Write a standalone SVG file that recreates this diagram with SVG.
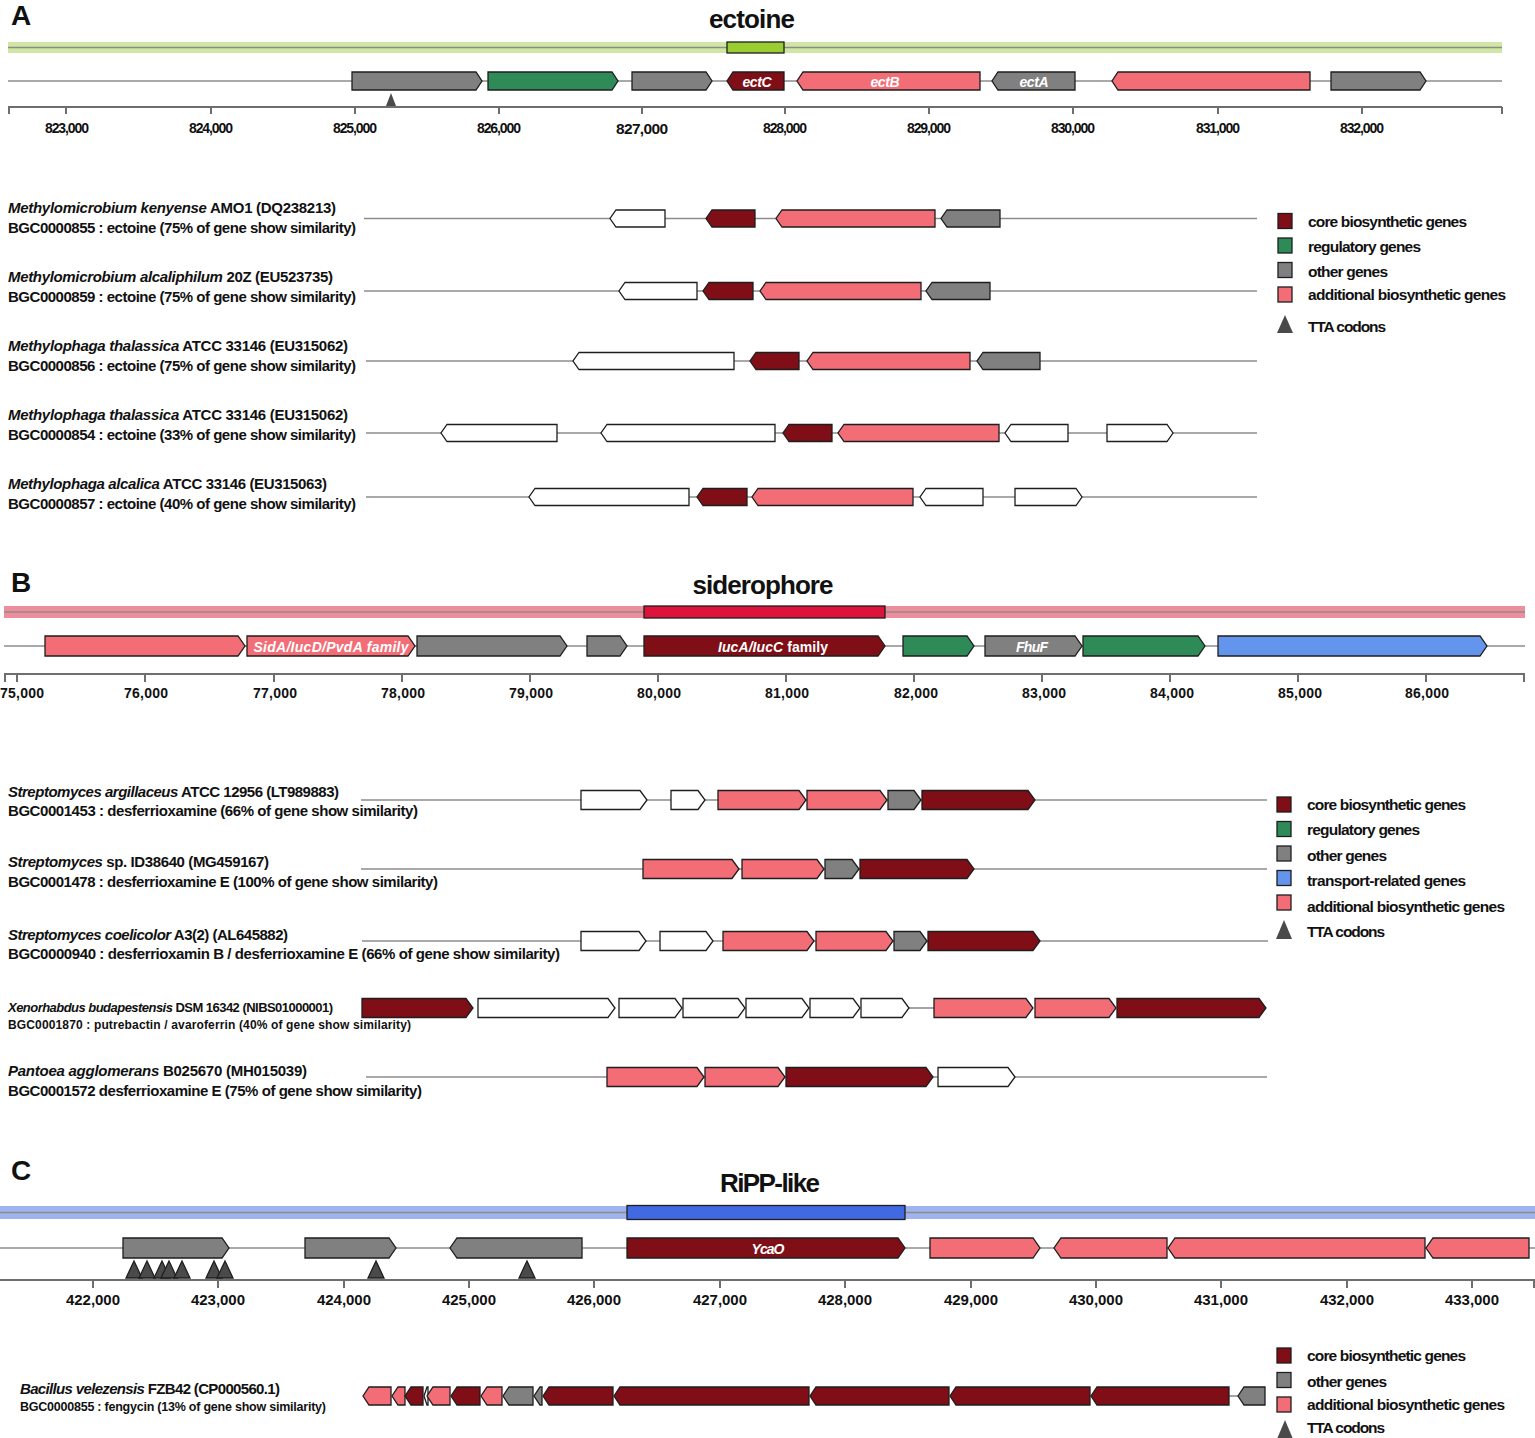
<svg xmlns="http://www.w3.org/2000/svg" width="1535" height="1438" viewBox="0 0 1535 1438">
<style>
text{font-family:"Liberation Sans","DejaVu Sans",sans-serif;font-weight:bold;fill:#111}
.t{font-size:15px}
.s{font-size:13px}
.i{font-style:italic}
.hd{font-size:26px}
.tk{font-size:14px;text-anchor:middle}
.gl{font-size:14px;fill:#fff;text-anchor:middle;font-style:italic}
.lg{font-size:15.5px}
polygon,rect.k{stroke:#1e1e1e;stroke-width:1.3}
.core{fill:#7f0e16}.add{fill:#f26d76}.oth{fill:#808080}.reg{fill:#2e8b57}.tr{fill:#6495ed}.wh{fill:#fff}
.trk{stroke:#8c8c8c;stroke-width:1.6}
.ax{stroke:#6e6e6e;stroke-width:2}
.tt{fill:#4a4a4a;stroke:none}
</style>

<!-- ================= PANEL A ================= -->
<g id="panelA-head">
<text x="11" y="25" class="hd" style="font-size:28px">A</text>
<text x="752" y="28" class="hd" text-anchor="middle" textLength="86">ectoine</text>
<rect x="8" y="42" width="1494" height="11" fill="#cfe7a2"/>
<line x1="8" y1="47.5" x2="1502" y2="47.5" class="trk"/>
<rect class="k" x="727" y="42" width="57" height="11" fill="#9acd32"/>
</g>
<g id="connectors">
<line x1="8" y1="81" x2="1502" y2="81" class="trk"/>
<line x1="364" y1="218.5" x2="1257" y2="218.5" class="trk"/>
<line x1="364" y1="291" x2="1257" y2="291" class="trk"/>
<line x1="366" y1="361" x2="1257" y2="361" class="trk"/>
<line x1="366" y1="433" x2="1257" y2="433" class="trk"/>
<line x1="366" y1="497" x2="1257" y2="497" class="trk"/>
<line x1="4" y1="646" x2="1525" y2="646" class="trk"/>
<line x1="361" y1="800" x2="1267" y2="800" class="trk"/>
<line x1="361" y1="869" x2="1267" y2="869" class="trk"/>
<line x1="362" y1="941" x2="1268" y2="941" class="trk"/>
<line x1="909" y1="1008" x2="934" y2="1008" class="trk"/>
<line x1="366" y1="1077" x2="1267" y2="1077" class="trk"/>
<line x1="0" y1="1248" x2="1535" y2="1248" class="trk"/>
<line x1="1229" y1="1396" x2="1238" y2="1396" class="trk"/>
</g>
<g id="A-main-genes">
<polygon class="oth" points="352,72 476,72 482,81 476,90 352,90"/>
<polygon class="reg" points="488,72 612,72 618,81 612,90 488,90"/>
<polygon class="oth" points="632,72 706,72 712,81 706,90 632,90"/>
<polygon class="core" points="733,72 784,72 784,90 733,90 727,81"/>
<polygon class="add" points="803,72 980,72 980,90 803,90 797,81"/>
<polygon class="oth" points="998,72 1075,72 1075,90 998,90 992,81"/>
<polygon class="add" points="1118,72 1310,72 1310,90 1118,90 1112,81"/>
<polygon class="oth" points="1331,72 1420,72 1426,81 1420,90 1331,90"/>
<text x="757" y="86.5" class="gl" textLength="29">ectC</text>
<text x="885" y="86.5" class="gl" textLength="29">ectB</text>
<text x="1034" y="86.5" class="gl" textLength="29">ectA</text>
<polygon class="tt" points="391,93 396,106 386,106"/>
</g>
<g id="A-axis">
<line x1="8" y1="107" x2="1502" y2="107" class="ax"/>
<path class="ax" fill="none" d="M9,107V114M66,107V114M211,107V114M355,107V114M499,107V114M642,107V114M785,107V114M929,107V114M1073,107V114M1218,107V114M1362,107V114M1502,107V114"/>
<text class="tk" x="67" y="133" textLength="44">823,000</text>
<text class="tk" x="211" y="133" textLength="44">824,000</text>
<text class="tk" x="355" y="133" textLength="44">825,000</text>
<text class="tk" x="499" y="133" textLength="44">826,000</text>
<text class="tk" x="642" y="134" textLength="52" style="font-size:15.5px">827,000</text>
<text class="tk" x="785" y="133" textLength="44">828,000</text>
<text class="tk" x="929" y="133" textLength="44">829,000</text>
<text class="tk" x="1073" y="133" textLength="44">830,000</text>
<text class="tk" x="1218" y="133" textLength="44">831,000</text>
<text class="tk" x="1362" y="133" textLength="44">832,000</text>
</g>

<g id="A-row1">
<text x="8" y="213" class="t" textLength="328"><tspan class="i">Methylomicrobium kenyense</tspan> AMO1 (DQ238213)</text>
<text x="8" y="233" class="t" textLength="348">BGC0000855 : ectoine (75% of gene show similarity)</text>
<polygon class="wh" points="616,210 665,210 665,227 616,227 610,218.5"/>
<polygon class="core" points="712,210 755,210 755,227 712,227 706,218.5"/>
<polygon class="add" points="782,210 935,210 935,227 782,227 776,218.5"/>
<polygon class="oth" points="947,210 1000,210 1000,227 947,227 941,218.5"/>
</g>
<g id="A-row2">
<text x="8" y="282" class="t" textLength="325"><tspan class="i">Methylomicrobium alcaliphilum</tspan> 20Z (EU523735)</text>
<text x="8" y="302" class="t" textLength="348">BGC0000859 : ectoine (75% of gene show similarity)</text>
<polygon class="wh" points="625,282.5 697,282.5 697,299.5 625,299.5 619,291"/>
<polygon class="core" points="709,282.5 753,282.5 753,299.5 709,299.5 703,291"/>
<polygon class="add" points="766,282.5 921,282.5 921,299.5 766,299.5 760,291"/>
<polygon class="oth" points="932,282.5 990,282.5 990,299.5 932,299.5 926,291"/>
</g>
<g id="A-row3">
<text x="8" y="351" class="t" textLength="340"><tspan class="i">Methylophaga thalassica</tspan>  ATCC 33146 (EU315062)</text>
<text x="8" y="371" class="t" textLength="348">BGC0000856 : ectoine (75% of gene show similarity)</text>
<polygon class="wh" points="579,352.5 734,352.5 734,369.5 579,369.5 573,361"/>
<polygon class="core" points="756,352.5 799,352.5 799,369.5 756,369.5 750,361"/>
<polygon class="add" points="813,352.5 970,352.5 970,369.5 813,369.5 807,361"/>
<polygon class="oth" points="983,352.5 1040,352.5 1040,369.5 983,369.5 977,361"/>
</g>
<g id="A-row4">
<text x="8" y="420" class="t" textLength="340"><tspan class="i">Methylophaga thalassica</tspan>  ATCC 33146 (EU315062)</text>
<text x="8" y="440" class="t" textLength="348">BGC0000854 : ectoine (33% of gene show similarity)</text>
<polygon class="wh" points="447,424.5 557,424.5 557,441.5 447,441.5 441,433"/>
<polygon class="wh" points="607,424.5 775,424.5 775,441.5 607,441.5 601,433"/>
<polygon class="core" points="789,424.5 832,424.5 832,441.5 789,441.5 783,433"/>
<polygon class="add" points="844,424.5 999,424.5 999,441.5 844,441.5 838,433"/>
<polygon class="wh" points="1011,424.5 1068,424.5 1068,441.5 1011,441.5 1005,433"/>
<polygon class="wh" points="1107,424.5 1167,424.5 1173,433 1167,441.5 1107,441.5"/>
</g>
<g id="A-row5">
<text x="8" y="489" class="t" textLength="319"><tspan class="i">Methylophaga alcalica</tspan> ATCC 33146 (EU315063)</text>
<text x="8" y="509" class="t" textLength="348">BGC0000857 : ectoine (40% of gene show similarity)</text>
<polygon class="wh" points="535,488.5 689,488.5 689,505.5 535,505.5 529,497"/>
<polygon class="core" points="703,488.5 747,488.5 747,505.5 703,505.5 697,497"/>
<polygon class="add" points="758,488.5 913,488.5 913,505.5 758,505.5 752,497"/>
<polygon class="wh" points="926,488.5 983,488.5 983,505.5 926,505.5 920,497"/>
<polygon class="wh" points="1015,488.5 1076,488.5 1082,497 1076,505.5 1015,505.5"/>
</g>
<g id="A-legend">
<rect class="k core" x="1278" y="213.5" width="14" height="15"/>
<rect class="k reg" x="1278" y="238" width="14" height="15"/>
<rect class="k oth" x="1278" y="262.5" width="14" height="15"/>
<rect class="k add" x="1278" y="287" width="14" height="15"/>
<polygon class="tt" points="1285,315 1293,333 1277,333"/>
<text x="1308" y="226.5" class="lg" textLength="159">core biosynthetic genes</text>
<text x="1308" y="252" class="lg" textLength="113">regulatory genes</text>
<text x="1308" y="277" class="lg" textLength="80">other genes</text>
<text x="1308" y="299.5" class="lg" textLength="198">additional biosynthetic genes</text>
<text x="1308" y="331.5" class="lg" textLength="78">TTA codons</text>
</g>

<!-- ================= PANEL B ================= -->
<g id="panelB-head">
<text x="11" y="592" class="hd" style="font-size:28px">B</text>
<text x="763" y="594" class="hd" text-anchor="middle" textLength="141">siderophore</text>
<rect x="4" y="606" width="1521" height="12" fill="#ee8e9c"/>
<line x1="4" y1="612" x2="1525" y2="612" class="trk"/>
<rect class="k" x="644" y="606" width="241" height="12" fill="#dc143c"/>
</g>
<g id="B-main-genes">
<polygon class="add" points="45,636 238,636 245,646 238,656 45,656"/>
<polygon class="add" points="247,636 408,636 415,646 408,656 247,656"/>
<polygon class="oth" points="417,636 560,636 567,646 560,656 417,656"/>
<polygon class="oth" points="587,636 620,636 627,646 620,656 587,656"/>
<polygon class="core" points="644,636 878,636 885,646 878,656 644,656"/>
<polygon class="reg" points="903,636 967,636 974,646 967,656 903,656"/>
<polygon class="oth" points="985,636 1075,636 1082,646 1075,656 985,656"/>
<polygon class="reg" points="1083,636 1198,636 1205,646 1198,656 1083,656"/>
<polygon class="tr" points="1218,636 1480,636 1487,646 1480,656 1218,656"/>
<text x="331" y="651.5" class="gl" textLength="155">SidA/IucD/PvdA family</text>
<text x="773" y="651.5" class="gl" textLength="110"><tspan>IucA/IucC</tspan><tspan font-style="normal"> family</tspan></text>
<text x="1032" y="651.5" class="gl" textLength="32">FhuF</text>
</g>
<g id="B-axis">
<line x1="4" y1="674" x2="1525" y2="674" class="ax"/>
<path class="ax" fill="none" d="M5,674V682M17,674V682M145,674V682M274,674V682M402,674V682M530,674V682M658,674V682M786,674V682M914,674V682M1042,674V682M1170,674V682M1298,674V682M1426,674V682M1524,674V682"/>
<text class="tk" x="22" y="698" textLength="44">75,000</text>
<text class="tk" x="146" y="698" textLength="44">76,000</text>
<text class="tk" x="275" y="698" textLength="44">77,000</text>
<text class="tk" x="403" y="698" textLength="44">78,000</text>
<text class="tk" x="531" y="698" textLength="44">79,000</text>
<text class="tk" x="659" y="698" textLength="44">80,000</text>
<text class="tk" x="787" y="698" textLength="44">81,000</text>
<text class="tk" x="916" y="698" textLength="44">82,000</text>
<text class="tk" x="1044" y="698" textLength="44">83,000</text>
<text class="tk" x="1172" y="698" textLength="44">84,000</text>
<text class="tk" x="1300" y="698" textLength="44">85,000</text>
<text class="tk" x="1427" y="698" textLength="44">86,000</text>
</g>
<g id="B-row1">
<text x="8" y="797" class="t" textLength="331"><tspan class="i">Streptomyces argillaceus</tspan> ATCC 12956 (LT989883)</text>
<text x="8" y="816" class="t" textLength="410">BGC0001453 : desferrioxamine (66% of gene show similarity)</text>
<polygon class="wh" points="581,790.5 640,790.5 647,800 640,809.5 581,809.5"/>
<polygon class="wh" points="671,790.5 698,790.5 705,800 698,809.5 671,809.5"/>
<polygon class="add" points="718,790.5 799,790.5 806,800 799,809.5 718,809.5"/>
<polygon class="add" points="807,790.5 880,790.5 887,800 880,809.5 807,809.5"/>
<polygon class="oth" points="888,790.5 914,790.5 921,800 914,809.5 888,809.5"/>
<polygon class="core" points="922,790.5 1028,790.5 1035,800 1028,809.5 922,809.5"/>
</g>
<g id="B-row2">
<text x="8" y="867" class="t" textLength="261"><tspan class="i">Streptomyces</tspan> sp. ID38640 (MG459167)</text>
<text x="8" y="887" class="t" textLength="430">BGC0001478 : desferrioxamine E (100% of gene show similarity)</text>
<polygon class="add" points="643,859.5 732,859.5 739,869 732,878.5 643,878.5"/>
<polygon class="add" points="742,859.5 817,859.5 824,869 817,878.5 742,878.5"/>
<polygon class="oth" points="825,859.5 852,859.5 859,869 852,878.5 825,878.5"/>
<polygon class="core" points="860,859.5 967,859.5 974,869 967,878.5 860,878.5"/>
</g>
<g id="B-row3">
<text x="8" y="940" class="t" textLength="280"><tspan class="i">Streptomyces coelicolor</tspan> A3(2) (AL645882)</text>
<text x="8" y="959" class="t" textLength="552">BGC0000940 : desferrioxamin B / desferrioxamine E (66% of gene show similarity)</text>
<polygon class="wh" points="581,931.5 639,931.5 646,941 639,950.5 581,950.5"/>
<polygon class="wh" points="660,931.5 706,931.5 713,941 706,950.5 660,950.5"/>
<polygon class="add" points="723,931.5 807,931.5 814,941 807,950.5 723,950.5"/>
<polygon class="add" points="816,931.5 886,931.5 893,941 886,950.5 816,950.5"/>
<polygon class="oth" points="894,931.5 920,931.5 927,941 920,950.5 894,950.5"/>
<polygon class="core" points="928,931.5 1033,931.5 1040,941 1033,950.5 928,950.5"/>
</g>
<g id="B-row4">
<text x="8" y="1012" class="s" textLength="325"><tspan class="i">Xenorhabdus budapestensis</tspan> DSM 16342 (NIBS01000001)</text>
<text x="8" y="1029" class="s" style="font-size:12px" textLength="403">BGC0001870 : putrebactin / avaroferrin (40% of gene show similarity)</text>
<polygon class="core" points="362,998.5 466,998.5 473,1008 466,1017.5 362,1017.5"/>
<polygon class="wh" points="478,998.5 608,998.5 615,1008 608,1017.5 478,1017.5"/>
<polygon class="wh" points="619,998.5 675,998.5 682,1008 675,1017.5 619,1017.5"/>
<polygon class="wh" points="683,998.5 738,998.5 745,1008 738,1017.5 683,1017.5"/>
<polygon class="wh" points="746,998.5 802,998.5 809,1008 802,1017.5 746,1017.5"/>
<polygon class="wh" points="810,998.5 853,998.5 860,1008 853,1017.5 810,1017.5"/>
<polygon class="wh" points="861,998.5 902,998.5 909,1008 902,1017.5 861,1017.5"/>
<polygon class="add" points="934,998.5 1026,998.5 1033,1008 1026,1017.5 934,1017.5"/>
<polygon class="add" points="1035,998.5 1109,998.5 1116,1008 1109,1017.5 1035,1017.5"/>
<polygon class="core" points="1117,998.5 1259,998.5 1266,1008 1259,1017.5 1117,1017.5"/>
</g>
<g id="B-row5">
<text x="8" y="1076" class="t" textLength="299"><tspan class="i">Pantoea agglomerans</tspan> B025670 (MH015039)</text>
<text x="8" y="1096" class="t" textLength="414">BGC0001572 desferrioxamine E (75% of gene show similarity)</text>
<polygon class="add" points="607,1067.5 697,1067.5 704,1077 697,1086.5 607,1086.5"/>
<polygon class="add" points="705,1067.5 778,1067.5 785,1077 778,1086.5 705,1086.5"/>
<polygon class="core" points="786,1067.5 926,1067.5 933,1077 926,1086.5 786,1086.5"/>
<polygon class="wh" points="938,1067.5 1008,1067.5 1015,1077 1008,1086.5 938,1086.5"/>
</g>
<g id="B-legend">
<rect class="k core" x="1277" y="797" width="14" height="15"/>
<rect class="k reg" x="1277" y="821.5" width="14" height="15"/>
<rect class="k oth" x="1277" y="846" width="14" height="15"/>
<rect class="k tr" x="1277" y="870.5" width="14" height="15"/>
<rect class="k add" x="1277" y="895" width="14" height="15"/>
<polygon class="tt" points="1284,920 1292,939 1276,939"/>
<text x="1307" y="809.5" class="lg" textLength="159">core biosynthetic genes</text>
<text x="1307" y="835" class="lg" textLength="113">regulatory genes</text>
<text x="1307" y="861" class="lg" textLength="80">other genes</text>
<text x="1307" y="886" class="lg" textLength="159">transport-related genes</text>
<text x="1307" y="912" class="lg" textLength="198">additional biosynthetic genes</text>
<text x="1307" y="937" class="lg" textLength="78">TTA codons</text>
</g>

<!-- ================= PANEL C ================= -->
<g id="panelC-head">
<text x="11" y="1180" class="hd" style="font-size:28px">C</text>
<text x="770" y="1192" class="hd" text-anchor="middle" textLength="100">RiPP-like</text>
<rect x="0" y="1206" width="1535" height="13" fill="#9fb4ee"/>
<line x1="0" y1="1212.5" x2="1535" y2="1212.5" class="trk"/>
<rect class="k" x="627" y="1205.5" width="278" height="14" fill="#4169e1"/>
</g>
<g id="C-main-genes">
<polygon class="oth" points="123,1238 222,1238 229,1248 222,1258 123,1258"/>
<polygon class="oth" points="305,1238 389,1238 396,1248 389,1258 305,1258"/>
<polygon class="oth" points="457,1238 582,1238 582,1258 457,1258 450,1248"/>
<polygon class="core" points="627,1238 898,1238 905,1248 898,1258 627,1258"/>
<polygon class="add" points="930,1238 1033,1238 1040,1248 1033,1258 930,1258"/>
<polygon class="add" points="1061,1238 1167,1238 1167,1258 1061,1258 1054,1248"/>
<polygon class="add" points="1175,1238 1425,1238 1425,1258 1175,1258 1168,1248"/>
<polygon class="add" points="1433,1238 1529,1238 1529,1258 1433,1258 1426,1248"/>
<text x="768" y="1253.5" class="gl" textLength="33">YcaO</text>
<g class="tt">
<polygon points="134,1261 142,1278 126,1278"/>
<polygon points="147,1261 155,1278 139,1278"/>
<polygon points="162,1261 170,1278 154,1278"/>
<polygon points="169,1261 177,1278 161,1278"/>
<polygon points="182,1261 190,1278 174,1278"/>
<polygon points="214,1261 222,1278 206,1278"/>
<polygon points="225,1261 233,1278 217,1278"/>
<polygon points="376,1261 384,1278 368,1278"/>
<polygon points="527,1261 535,1278 519,1278"/>
</g>
</g>
<g id="C-axis">
<line x1="0" y1="1280" x2="1535" y2="1280" class="ax"/>
<path class="ax" fill="none" d="M93,1280V1288M218,1280V1288M344,1280V1288M469,1280V1288M594,1280V1288M720,1280V1288M845,1280V1288M971,1280V1288M1096,1280V1288M1221,1280V1288M1347,1280V1288M1472,1280V1288M1534,1280V1288"/>
<text class="tk" x="93" y="1305" textLength="54" style="font-size:15px">422,000</text>
<text class="tk" x="218" y="1305" textLength="54" style="font-size:15px">423,000</text>
<text class="tk" x="344" y="1305" textLength="54" style="font-size:15px">424,000</text>
<text class="tk" x="469" y="1305" textLength="54" style="font-size:15px">425,000</text>
<text class="tk" x="594" y="1305" textLength="54" style="font-size:15px">426,000</text>
<text class="tk" x="720" y="1305" textLength="54" style="font-size:15px">427,000</text>
<text class="tk" x="845" y="1305" textLength="54" style="font-size:15px">428,000</text>
<text class="tk" x="971" y="1305" textLength="54" style="font-size:15px">429,000</text>
<text class="tk" x="1096" y="1305" textLength="54" style="font-size:15px">430,000</text>
<text class="tk" x="1221" y="1305" textLength="54" style="font-size:15px">431,000</text>
<text class="tk" x="1347" y="1305" textLength="54" style="font-size:15px">432,000</text>
<text class="tk" x="1472" y="1305" textLength="54" style="font-size:15px">433,000</text>
</g>
<g id="C-row1">
<text x="20" y="1394" class="t" textLength="260"><tspan class="i">Bacillus velezensis</tspan> FZB42 (CP000560.1)</text>
<text x="20" y="1411" class="s" style="font-size:12.5px" textLength="306">BGC0000855 : fengycin (13% of gene show similarity)</text>
<polygon class="add" points="369,1387 391,1387 391,1405 369,1405 363,1396"/>
<polygon class="add" points="398,1387 405,1387 405,1405 398,1405 392,1396"/>
<polygon class="core" points="411,1387 423,1387 423,1405 411,1405 405,1396"/>
<polygon class="wh" points="427,1387 428,1387 428,1405 427,1405 424,1396"/>
<polygon class="add" points="433,1387 450,1387 450,1405 433,1405 427,1396"/>
<polygon class="core" points="457,1387 480,1387 480,1405 457,1405 451,1396"/>
<polygon class="add" points="487,1387 502,1387 502,1405 487,1405 481,1396"/>
<polygon class="oth" points="509,1387 533,1387 533,1405 509,1405 503,1396"/>
<polygon class="oth" points="540,1387 542,1387 542,1405 540,1405 534,1396"/>
<polygon class="core" points="549,1387 613,1387 613,1405 549,1405 543,1396"/>
<polygon class="core" points="620,1387 809,1387 809,1405 620,1405 614,1396"/>
<polygon class="core" points="816,1387 949,1387 949,1405 816,1405 810,1396"/>
<polygon class="core" points="956,1387 1090,1387 1090,1405 956,1405 950,1396"/>
<polygon class="core" points="1097,1387 1229,1387 1229,1405 1097,1405 1091,1396"/>
<polygon class="oth" points="1244,1387 1265,1387 1265,1405 1244,1405 1238,1396"/>
</g>
<g id="C-legend">
<rect class="k core" x="1277" y="1348" width="14" height="15"/>
<rect class="k oth" x="1277" y="1372.5" width="14" height="15"/>
<rect class="k add" x="1277" y="1397" width="14" height="15"/>
<polygon class="tt" points="1285,1420 1293,1439 1277,1439"/>
<text x="1307" y="1361" class="lg" textLength="159">core biosynthetic genes</text>
<text x="1307" y="1387" class="lg" textLength="80">other genes</text>
<text x="1307" y="1410" class="lg" textLength="198">additional biosynthetic genes</text>
<text x="1307" y="1433" class="lg" textLength="78">TTA codons</text>
</g>
</svg>
